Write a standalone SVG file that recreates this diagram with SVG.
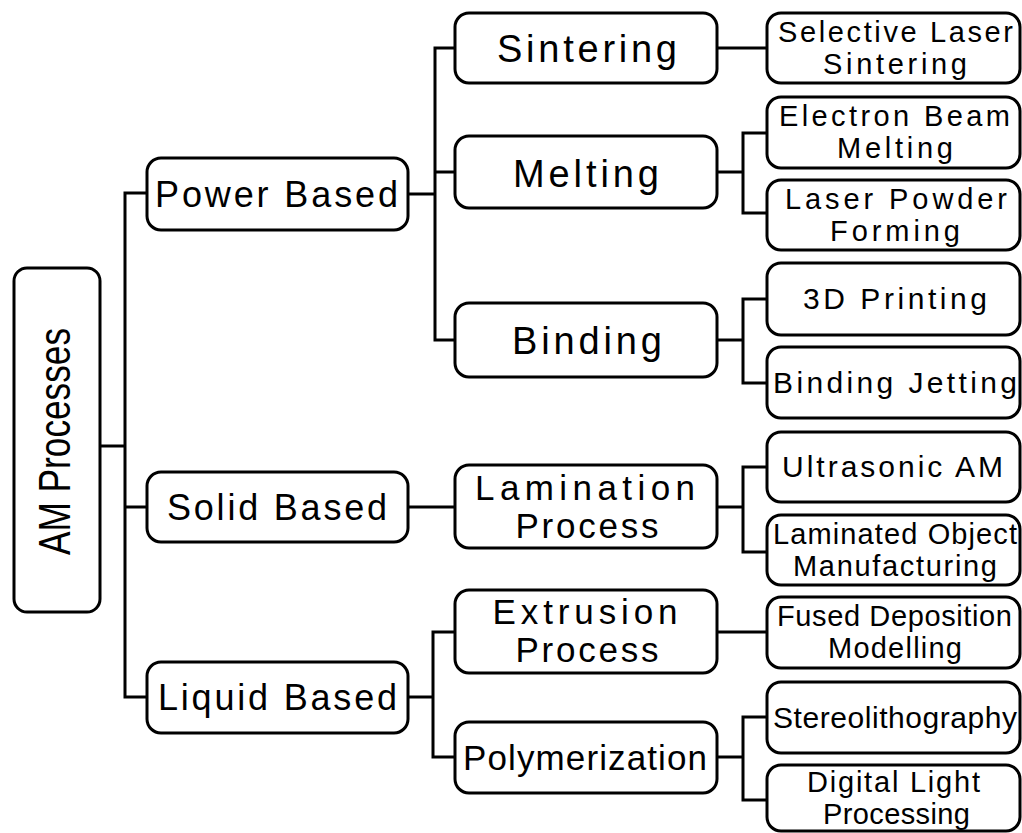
<svg xmlns="http://www.w3.org/2000/svg" width="1022" height="833" viewBox="0 0 1022 833">
  <style>
    .box { fill: #ffffff; stroke: #000000; stroke-width: 3; }
    .wire { fill: none; stroke: #000000; stroke-width: 3; stroke-linejoin: miter; }
    text { font-family: "Liberation Sans", Arial, sans-serif; fill: #000000; text-anchor: middle; }
    .t0 { font-size: 44px; }
    .t1 { font-size: 36px; }
    .t2 { font-size: 38px; }
    .t2b { font-size: 35px; }
    .t3 { font-size: 30px; }
    .t3b { font-size: 29px; }
  </style>
  <rect width="1022" height="833" fill="#ffffff"/>

  <!-- connectors -->
  <g id="connectors" class="wire">
    <!-- root to categories -->
    <path d="M100 446 H125"/>
    <path d="M147 193 H125 V697 H147"/>
    <path d="M125 507 H147"/>
    <!-- powder based -->
    <path d="M408 194 H435"/>
    <path d="M455 48 H435 V340 H455"/>
    <path d="M435 172 H455"/>
    <path d="M717 48 H767"/>
    <path d="M717 172 H743"/>
    <path d="M767 133 H743 V213 H767"/>
    <path d="M717 340 H743"/>
    <path d="M767 299 H743 V383 H767"/>
    <!-- solid based -->
    <path d="M408 507 H455"/>
    <path d="M717 507 H743"/>
    <path d="M767 467 H743 V552 H767"/>
    <!-- liquid based -->
    <path d="M408 697 H433"/>
    <path d="M455 632 H433 V757 H455"/>
    <path d="M717 632 H767"/>
    <path d="M717 757 H743"/>
    <path d="M767 717 H743 V800 H767"/>
  </g>

  <!-- root -->
  <g id="am-processes">
    <rect class="box" x="14" y="268" width="86" height="344" rx="13"/>
    <text class="t0" transform="translate(70 441.5) rotate(-90)" x="0" y="0" textLength="227" lengthAdjust="spacingAndGlyphs">AM Processes</text>
  </g>

  <!-- categories -->
  <g id="power-based">
    <rect class="box" x="147" y="158" width="261" height="72" rx="14"/>
    <text class="t1" x="276.5" y="206.5" textLength="243" lengthAdjust="spacing">Power Based</text>
  </g>
  <g id="solid-based">
    <rect class="box" x="147" y="472" width="261" height="70" rx="14"/>
    <text class="t1" x="277" y="519.5" textLength="220" lengthAdjust="spacing">Solid Based</text>
  </g>
  <g id="liquid-based">
    <rect class="box" x="147" y="662" width="261" height="71" rx="14"/>
    <text class="t1" x="277.5" y="710" textLength="239" lengthAdjust="spacing">Liquid Based</text>
  </g>

  <!-- process families -->
  <g id="sintering">
    <rect class="box" x="455" y="13" width="262" height="70" rx="14"/>
    <text class="t2" x="587" y="61.5" textLength="180" lengthAdjust="spacing">Sintering</text>
  </g>
  <g id="melting">
    <rect class="box" x="455" y="136" width="262" height="72" rx="14"/>
    <text class="t2" x="586" y="186.5" textLength="146" lengthAdjust="spacing">Melting</text>
  </g>
  <g id="binding">
    <rect class="box" x="455" y="303" width="262" height="74" rx="14"/>
    <text class="t2" x="587" y="353.5" textLength="150" lengthAdjust="spacing">Binding</text>
  </g>
  <g id="lamination-process">
    <rect class="box" x="455" y="465" width="262" height="83" rx="14"/>
    <text class="t2b" x="585" y="499.5" textLength="220" lengthAdjust="spacing">Lamination</text>
    <text class="t2b" x="587" y="537.5" textLength="143" lengthAdjust="spacing">Process</text>
  </g>
  <g id="extrusion-process">
    <rect class="box" x="455" y="590" width="262" height="83" rx="14"/>
    <text class="t2b" x="585" y="624" textLength="185" lengthAdjust="spacing">Extrusion</text>
    <text class="t2b" x="587" y="662" textLength="143" lengthAdjust="spacing">Process</text>
  </g>
  <g id="polymerization">
    <rect class="box" x="455" y="722" width="262" height="71" rx="14"/>
    <text class="t2b" x="585" y="770" textLength="244" lengthAdjust="spacing">Polymerization</text>
  </g>

  <!-- individual processes -->
  <g id="selective-laser-sintering">
    <rect class="box" x="767" y="13" width="253" height="70" rx="14"/>
    <text class="t3b" x="895.5" y="41.5" textLength="235" lengthAdjust="spacing">Selective Laser</text>
    <text class="t3b" x="895" y="73.5" textLength="144" lengthAdjust="spacing">Sintering</text>
  </g>
  <g id="electron-beam-melting">
    <rect class="box" x="767" y="97" width="253" height="71" rx="14"/>
    <text class="t3b" x="894.5" y="126" textLength="231" lengthAdjust="spacing">Electron Beam</text>
    <text class="t3b" x="895" y="158" textLength="116" lengthAdjust="spacing">Melting</text>
  </g>
  <g id="laser-powder-forming">
    <rect class="box" x="767" y="180" width="253" height="70" rx="14"/>
    <text class="t3b" x="896" y="208.5" textLength="222" lengthAdjust="spacing">Laser Powder</text>
    <text class="t3b" x="895" y="240.5" textLength="130" lengthAdjust="spacing">Forming</text>
  </g>
  <g id="3d-printing">
    <rect class="box" x="767" y="263" width="253" height="72" rx="14"/>
    <text class="t3" x="895" y="309" textLength="184" lengthAdjust="spacing">3D Printing</text>
  </g>
  <g id="binding-jetting">
    <rect class="box" x="767" y="347" width="253" height="71" rx="14"/>
    <text class="t3" x="895" y="392.5" textLength="244" lengthAdjust="spacing">Binding Jetting</text>
  </g>
  <g id="ultrasonic-am">
    <rect class="box" x="767" y="432" width="253" height="70" rx="14"/>
    <text class="t3" x="892.5" y="477" textLength="221" lengthAdjust="spacing">Ultrasonic AM</text>
  </g>
  <g id="laminated-object-manufacturing">
    <rect class="box" x="767" y="515" width="253" height="70" rx="14"/>
    <text class="t3b" x="895" y="543.5" textLength="244" lengthAdjust="spacing">Laminated Object</text>
    <text class="t3b" x="895" y="575.5" textLength="204" lengthAdjust="spacing">Manufacturing</text>
  </g>
  <g id="fused-deposition-modelling">
    <rect class="box" x="767" y="597" width="253" height="71" rx="14"/>
    <text class="t3b" x="894.5" y="626" textLength="235" lengthAdjust="spacing">Fused Deposition</text>
    <text class="t3b" x="895" y="658" textLength="134" lengthAdjust="spacing">Modelling</text>
  </g>
  <g id="stereolithography">
    <rect class="box" x="767" y="682" width="253" height="71" rx="14"/>
    <text class="t3" x="895" y="727.5" textLength="244" lengthAdjust="spacing">Stereolithography</text>
  </g>
  <g id="digital-light-processing">
    <rect class="box" x="767" y="765" width="253" height="66" rx="14"/>
    <text class="t3b" x="893.5" y="791.5" textLength="173" lengthAdjust="spacing">Digital Light</text>
    <text class="t3b" x="896.5" y="823.5" textLength="147" lengthAdjust="spacing">Processing</text>
  </g>
</svg>
